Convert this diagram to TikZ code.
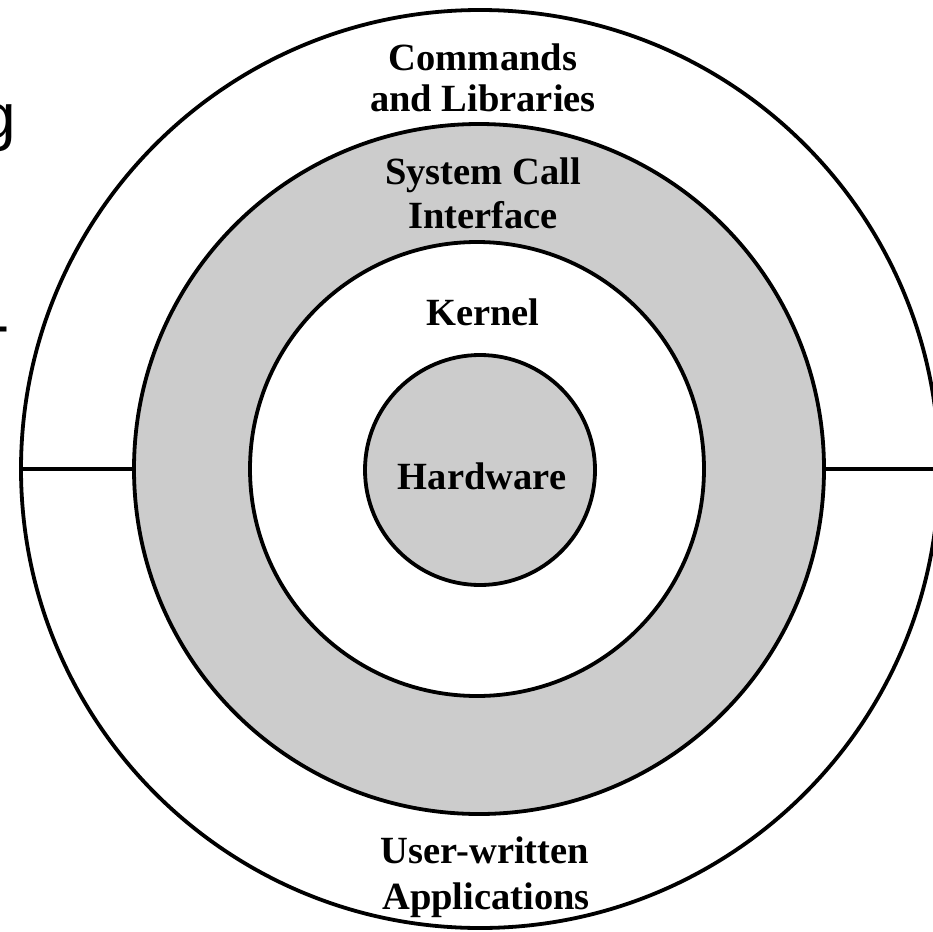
\documentclass[tikz,border=0pt]{standalone}
\usepackage{fontspec}
\setmainfont{Liberation Serif}
\newfontfamily\edgefont{Liberation Sans}
\definecolor{ringgray}{RGB}{204,204,204}
\tikzset{
  ring/.style={circle, draw=black, line width=3.8pt, inner sep=0pt, outer sep=0pt},
  lbl/.style={anchor=base, inner sep=0pt, font=\fontsize{38.5}{42}\selectfont\bfseries},
  edgetxt/.style={inner sep=0pt, font=\edgefont\fontsize{64}{70}\selectfont},
  divider/.style={line width=3.6pt}
}
\begin{document}
\begin{tikzpicture}[x=1pt,y=-1pt]
\useasboundingbox (0,0) rectangle (933,931);
\clip (0,0) rectangle (933,931);
\fill[white] (0,0) rectangle (933,931);
% circles
\node[ring, fill=white, minimum size=918pt] (outer) at (480,469) {};
\node[ring, fill=ringgray, minimum size=690pt] (sci) at (479,469) {};
\node[ring, fill=white, minimum size=454pt] (kernel) at (477,469) {};
\node[ring, fill=ringgray, minimum size=230pt] (hw) at (480,470) {};
% dividers
\coordinate (rightend) at (940,469);
\draw[divider] (outer.west) -- (sci.west);
\draw[divider] (sci.east) -- (rightend);
% labels
\node[lbl] (cmd1) at (483,71) {Commands};
\node[lbl] (cmd2) at (483,111) {and Libraries};
\node[lbl] (sys1) at (483,184) {System Call};
\node[lbl] (sys2) at (483,228) {Interface};
\node[lbl] (kern) at (483,325) {Kernel};
\node[lbl] (hwl) at (482,489) {Hardware};
\node[lbl] (usr1) at (485,863) {User-written};
\node[lbl] (usr2) at (486,909) {Applications};
% clipped text remnants on the left edge
\node[edgetxt, anchor=base east] (gfrag) at (16,138) {g};
\node[edgetxt, anchor=base west] (dashfrag) at (-11.5,346) {-};
\end{tikzpicture}
\end{document}
